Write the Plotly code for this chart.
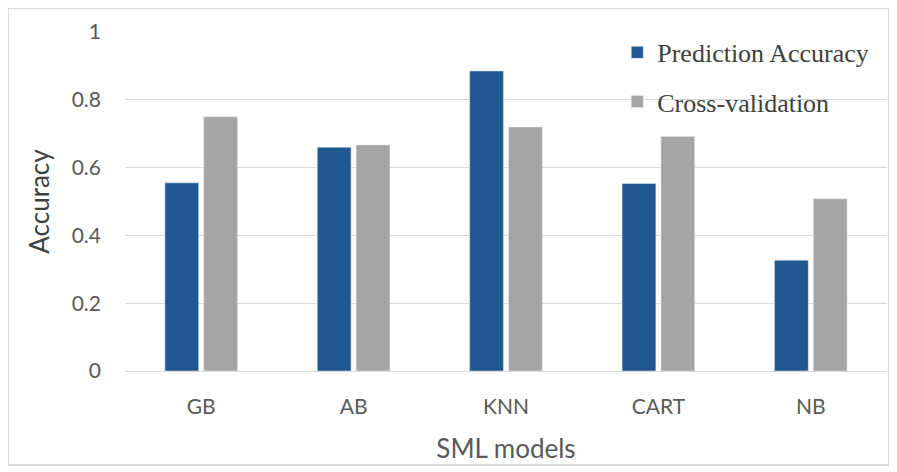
import plotly.graph_objects as go

models = ["GB", "AB", "KNN", "CART", "NB"]
prediction_accuracy = [0.555, 0.66, 0.885, 0.553, 0.327]
cross_validation = [0.75, 0.667, 0.72, 0.692, 0.508]
y_ticks = [0, 0.2, 0.4, 0.6, 0.8, 1]
y_tick_labels = ["0", "0.2", "0.4", "0.6", "0.8", "1"]

fig = go.Figure()
fig.add_trace(go.Bar(name="Prediction Accuracy", x=models, y=prediction_accuracy,
                     marker_color="#215891", legend="legend", showlegend=True))
fig.add_trace(go.Bar(name="Cross-validation", x=models, y=cross_validation,
                     marker_color="#a5a5a5", legend="legend2", showlegend=True))

legend_font = dict(family="Liberation Serif, Times New Roman, serif", size=26, color="#404040")
fig.update_layout(
    width=889, height=464,
    margin=dict(l=117, r=10, t=24, b=101),
    paper_bgcolor="white", plot_bgcolor="white",
    showlegend=True,
    barmode="group", bargap=0.49, bargroupgap=0.13,
    font=dict(family="Lato, Open Sans, sans-serif", color="#595959"),
    legend=dict(x=0.646, y=1.009, xanchor="left", yanchor="top", font=legend_font,
                bgcolor="rgba(0,0,0,0)", itemwidth=30),
    legend2=dict(x=0.646, y=0.864, xanchor="left", yanchor="top", font=legend_font,
                 bgcolor="rgba(0,0,0,0)", itemwidth=30),
    xaxis=dict(title=dict(text="SML models", font=dict(size=26, color="#595959"), standoff=22),
               tickfont=dict(size=21, color="#595959"), showline=True, linecolor="#d9d9d9",
               ticks="", ticklabelstandoff=17),
    yaxis=dict(title=dict(text="Accuracy", font=dict(size=26, color="#404040"), standoff=14),
               range=[0, 1], tickvals=y_ticks, ticktext=y_tick_labels,
               tickfont=dict(size=21, color="#595959"), showgrid=True, gridcolor="#d9d9d9",
               gridwidth=1, zeroline=False, ticks="", ticklabelstandoff=23),
    shapes=[dict(type="rect", xref="paper", yref="paper", x0=-0.1535, x1=1.0026, y0=-0.277, y1=1.0708,
                 line=dict(color="#d0d0d0", width=1.5))],
)

fig.write_html("out.html")
